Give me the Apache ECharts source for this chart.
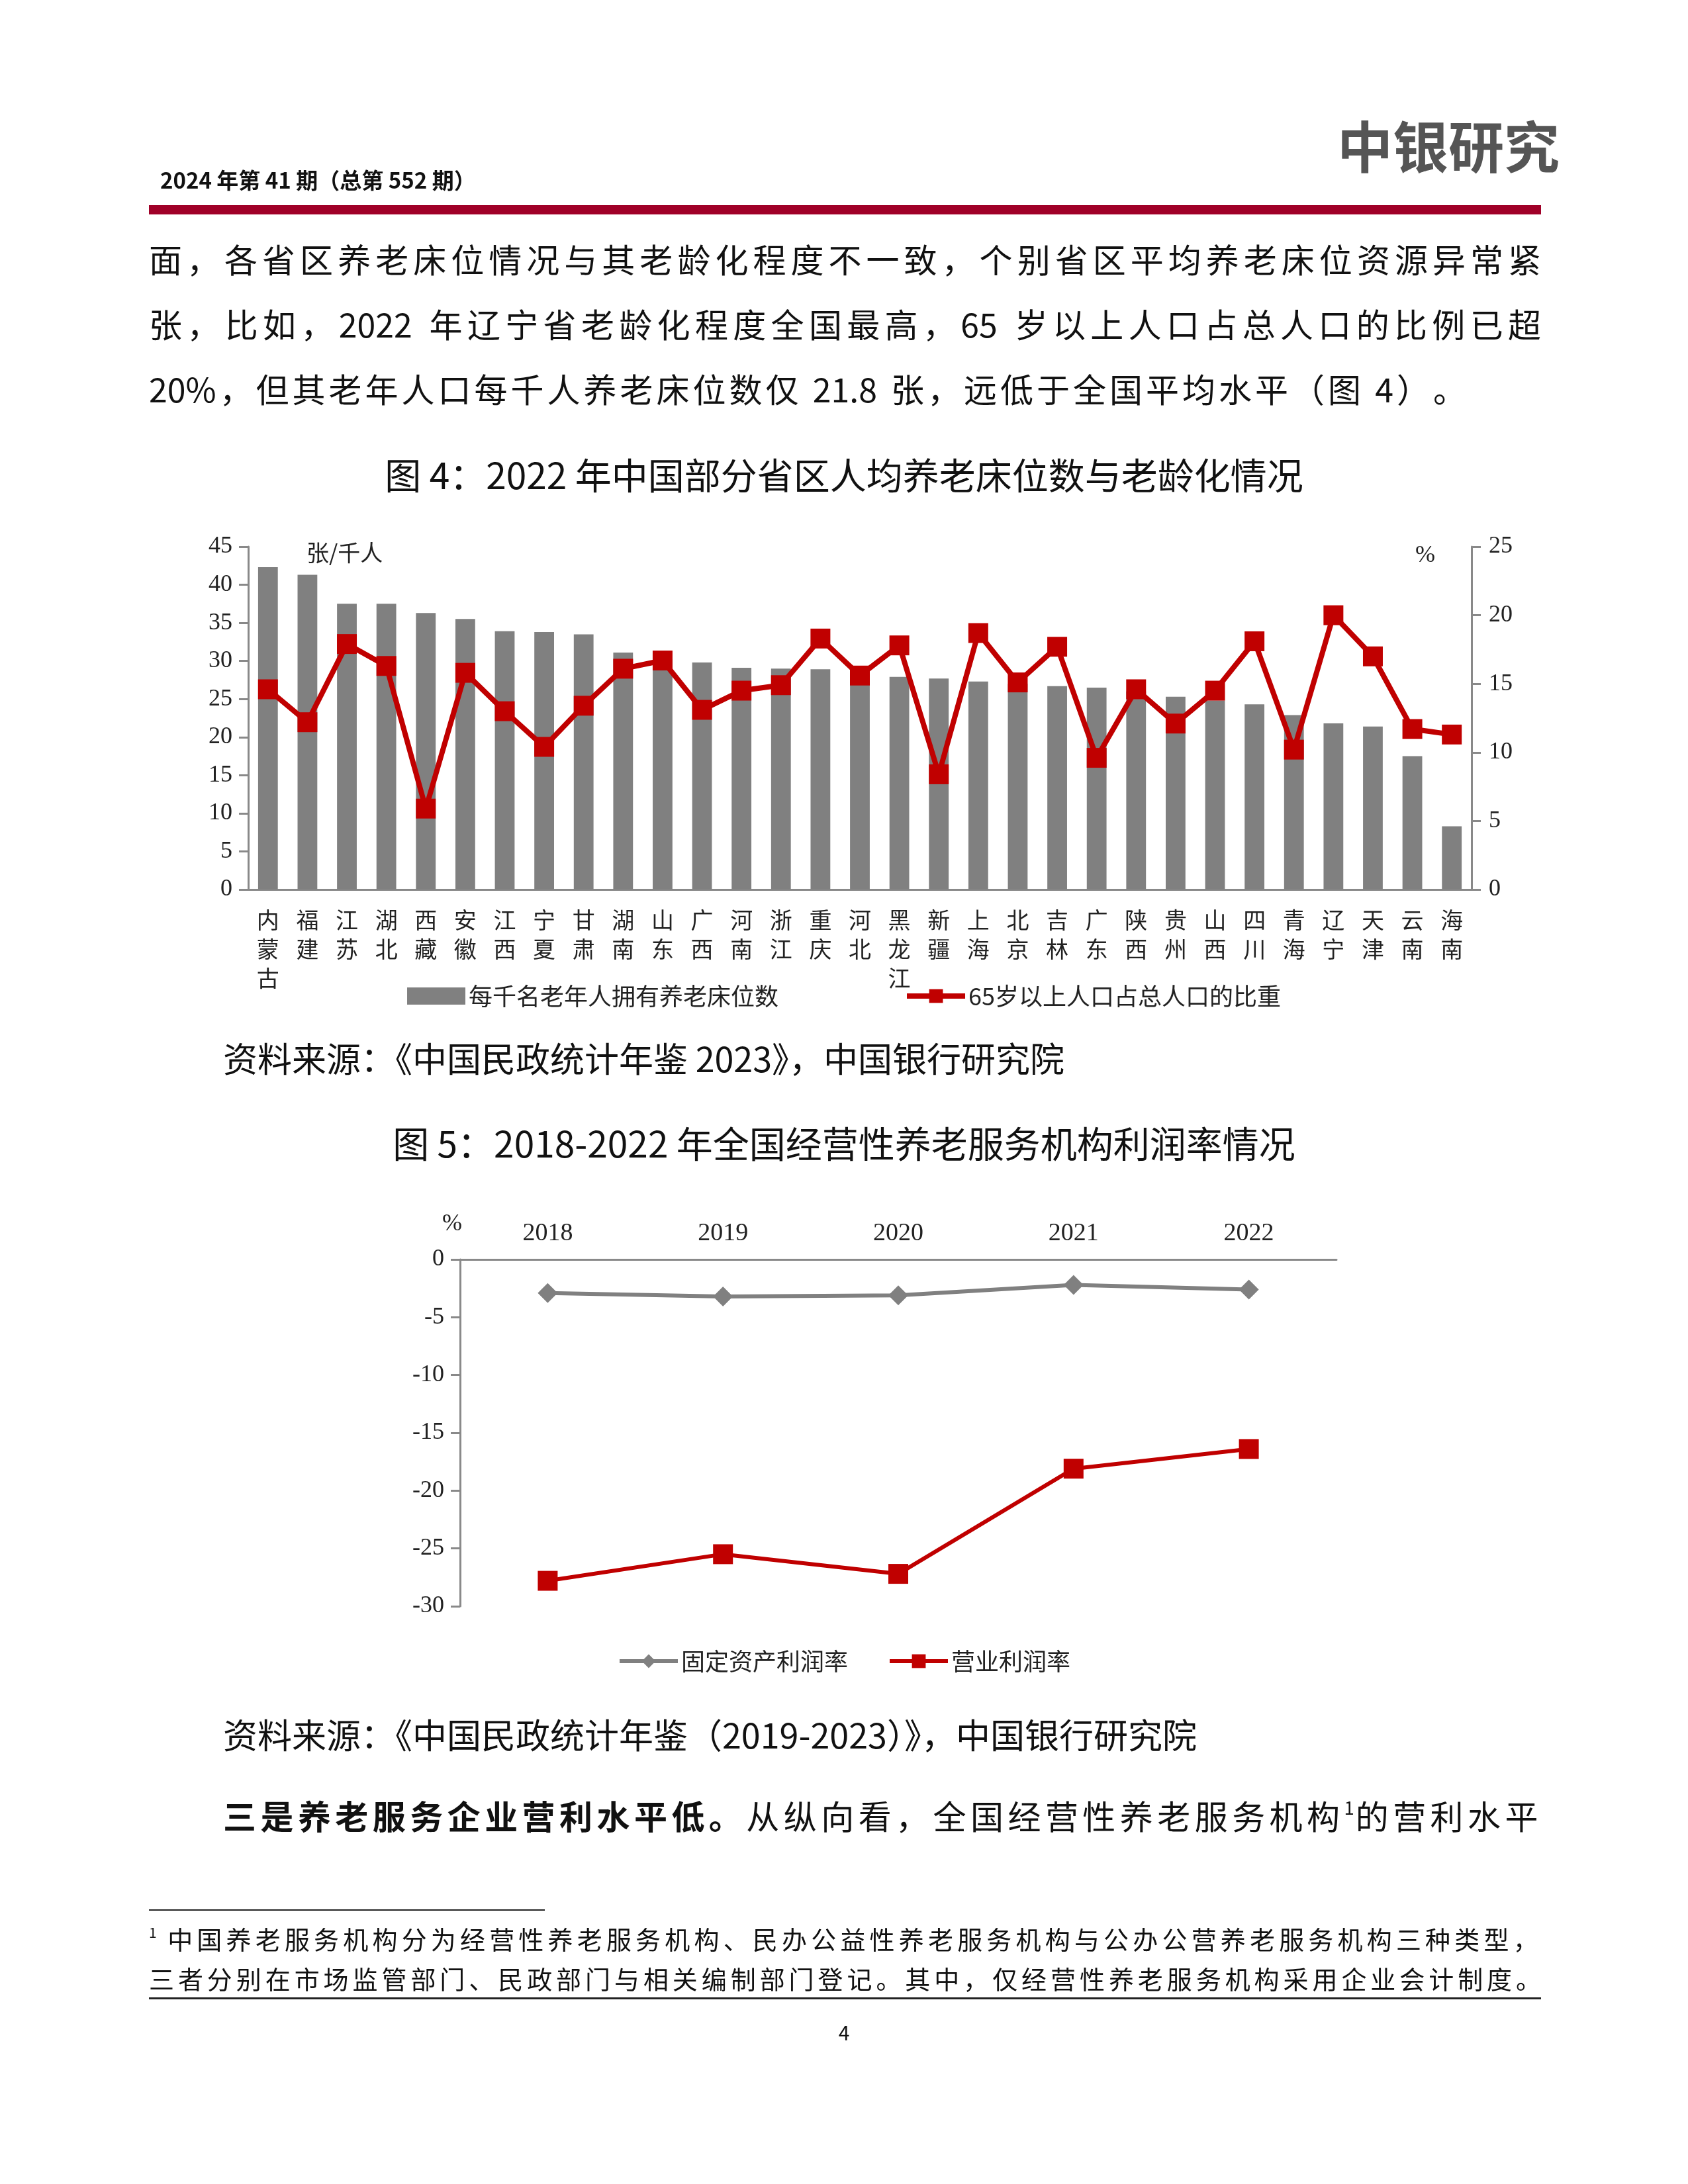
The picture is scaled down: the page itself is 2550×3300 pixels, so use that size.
<!DOCTYPE html>
<html><head><meta charset="utf-8">
<script src="https://cdn.jsdelivr.net/npm/echarts@6/dist/echarts.min.js"></script>
<style>html,body{margin:0;padding:0;background:#fff}#c{width:2550px;height:3300px}</style>
</head><body><div id="c"></div>
<script>
const provinces = ['内蒙古','福建','江苏','湖北','西藏','安徽','江西','宁夏','甘肃','湖南','山东','广西','河南','浙江','重庆','河北','黑龙江','新疆','上海','北京','吉林','广东','陕西','贵州','山西','四川','青海','辽宁','天津','云南','海南'];
const bedsPerThousand = [42.3,41.3,37.5,37.5,36.3,35.5,33.9,33.8,33.5,31.1,30.2,29.8,29.1,29.0,28.9,28.5,27.9,27.7,27.3,27.0,26.7,26.5,26.0,25.3,24.8,24.3,22.9,21.8,21.4,17.5,8.3];
const elderShare = [14.6,12.2,17.9,16.3,5.9,15.8,13.0,10.4,13.4,16.1,16.7,13.1,14.5,14.9,18.3,15.6,17.8,8.4,18.7,15.1,17.7,9.6,14.6,12.1,14.5,18.1,10.2,20.0,17.0,11.7,11.3];
const years = ['2018','2019','2020','2021','2022'];
const fixedAssetMargin = [-2.9,-3.2,-3.1,-2.2,-2.6];
const operatingMargin = [-27.8,-25.5,-27.2,-18.1,-16.4];
const leftTicks = [0,45,5];
const rightTicks = [0,25,5];
const margin2Ticks = [-30,0,5];

const CJK = '"Noto Sans CJK SC","Noto Sans",sans-serif';
const SERIF = '"Liberation Serif","DejaVu Serif",serif';
const mctx = document.createElement('canvas').getContext('2d');
function tokens(s){ return s.match(/[A-Za-z0-9.%\-]+|./g); }
function justLine(str, x0, x1, y, size, opts){
  opts = opts || {};
  const toks = tokens(str);
  const items = toks.map((t,i)=>{
    const bold = opts.boldUntil && i < opts.boldUntil;
    const sup = opts.sup === i;
    const fs = sup ? size*0.55 : size;
    const font = (bold?'bold ':'') + fs + 'px ' + CJK;
    mctx.font = font; const w = mctx.measureText(t).width;
    return {t, w, bold, sup, fs};
  });
  const sum = items.reduce((a,b)=>a+b.w,0);
  const gap = opts.nojust ? (opts.gap||0) : (x1-x0-sum)/(items.length-1);
  let x = x0; const out = [];
  items.forEach(it=>{
    out.push({type:'text', left:x, top:it.sup? y-size*0.05 : y, style:{text:it.t, font:(it.bold?'bold ':'')+it.fs+'px '+CJK, fill:'#111'}});
    x += it.w + (it.sup ? gap*0.3 : gap);
  });
  return out;
}

const g = [];
g.push({type:'text', left:242, top:256, style:{text:'2024 年第 41 期（总第 552 期）', font:'bold 33px '+CJK, fill:'#111'}});
g.push({type:'text', left:2020, top:180, style:{text:'中银研究', font:'bold 84px '+CJK, fill:'#555'}});
g.push({type:'rect', shape:{x:225,y:310,width:2103,height:14}, style:{fill:'#a00028'}});
g.push(...justLine('面，各省区养老床位情况与其老龄化程度不一致，个别省区平均养老床位资源异常紧',225,2328,368,50));
g.push(...justLine('张，比如，2022 年辽宁省老龄化程度全国最高，65 岁以上人口占总人口的比例已超',225,2328,466,50));
g.push(...justLine('20%，但其老年人口每千人养老床位数仅 21.8 张，远低于全国平均水平（图 4）。',225,2180,564,50,{nojust:true,gap:5}));
g.push({type:'text', x:1275, y:718, style:{text:'图 4：2022 年中国部分省区人均养老床位数与老龄化情况', font:'55px '+CJK, fill:'#111', align:'center', verticalAlign:'middle'}});
g.push({type:'text', left:463, top:818, style:{text:'张/千人', font:'34px '+CJK, fill:'#222'}});
g.push({type:'text', left:2138, top:822, style:{text:'%', font:'36px '+SERIF, fill:'#222'}});
g.push({type:'text', left:337, top:1574, style:{text:'资料来源：《中国民政统计年鉴 2023》，中国银行研究院', font:'52px '+CJK, fill:'#111'}});
g.push({type:'text', x:1275, y:1728, style:{text:'图 5：2018-2022 年全国经营性养老服务机构利润率情况', font:'55px '+CJK, fill:'#111', align:'center', verticalAlign:'middle'}});
g.push({type:'text', left:668, top:1832, style:{text:'%', font:'36px '+SERIF, fill:'#222'}});
g.push({type:'text', left:337, top:2596, style:{text:'资料来源：《中国民政统计年鉴（2019-2023）》，中国银行研究院', font:'52px '+CJK, fill:'#111'}});
g.push(...justLine('三是养老服务企业营利水平低。从纵向看，全国经营性养老服务机构1的营利水平',337,2328,2720,50,{boldUntil:14,sup:30}));
g.push({type:'rect', shape:{x:225,y:2885,width:598,height:2}, style:{fill:'#222'}});
g.push(...justLine('1 中国养老服务机构分为经营性养老服务机构、民办公益性养老服务机构与公办公营养老服务机构三种类型，',225,2328,2912,38,{sup:0}));
g.push(...justLine('三者分别在市场监管部门、民政部门与相关编制部门登记。其中，仅经营性养老服务机构采用企业会计制度。',225,2328,2972,38));
g.push({type:'rect', shape:{x:225,y:3018,width:2103,height:3}, style:{fill:'#222'}});
g.push({type:'text', x:1275, y:3072, style:{text:'4', font:'30px '+CJK, fill:'#111', align:'center', verticalAlign:'middle'}});

const axC = '#898989';
const chart = echarts.init(document.getElementById('c'));
chart.setOption({
  animation:false,
  graphic:g,
  legend:[
    {data:[{name:'每千名老年人拥有养老床位数',icon:'rect'},{name:'65岁以上人口占总人口的比重'}], left:'center', top:1482, itemWidth:88, itemHeight:26, itemGap:190,
     lineStyle:{width:8}, textStyle:{fontFamily:CJK,fontSize:36,color:'#222'}},
    {data:['固定资产利润率','营业利润率'], left:'center', top:2487, itemWidth:88, itemHeight:26, itemGap:60,
     lineStyle:{width:6}, textStyle:{fontFamily:CJK,fontSize:36,color:'#222'}}
  ],
  grid:[
    {left:375, top:826, width:1848, height:518},
    {left:695, top:1903, width:1324, height:524}
  ],
  xAxis:[
    {type:'category', gridIndex:0, data:provinces, boundaryGap:true,
     axisLine:{lineStyle:{color:axC,width:3}}, axisTick:{length:14, lineStyle:{color:axC,width:3}},
     axisLabel:{interval:0, margin:24, fontFamily:CJK, fontSize:34, color:'#222', lineHeight:44, formatter:v=>v.split('').join('\n'), verticalAlign:'top'}},
    {type:'category', gridIndex:1, data:years, position:'top', boundaryGap:true,
     axisLine:{lineStyle:{color:axC,width:3}}, axisTick:{length:14, lineStyle:{color:axC,width:3}},
     axisLabel:{margin:20, fontFamily:SERIF, fontSize:38, color:'#222'}}
  ],
  yAxis:[
    {type:'value', gridIndex:0, min:leftTicks[0], max:leftTicks[1], interval:leftTicks[2], splitLine:{show:false},
     axisLine:{show:true,lineStyle:{color:axC,width:3}}, axisTick:{show:true,length:14,lineStyle:{color:axC,width:3}},
     axisLabel:{margin:24, fontFamily:SERIF, fontSize:36, color:'#222'}},
    {type:'value', gridIndex:0, position:'right', min:rightTicks[0], max:rightTicks[1], interval:rightTicks[2], splitLine:{show:false},
     axisLine:{show:true,lineStyle:{color:axC,width:3}}, axisTick:{show:true,length:14,lineStyle:{color:axC,width:3}},
     axisLabel:{margin:26, fontFamily:SERIF, fontSize:36, color:'#222'}},
    {type:'value', gridIndex:1, min:margin2Ticks[0], max:margin2Ticks[1], interval:margin2Ticks[2], splitLine:{show:false},
     axisLine:{show:true,lineStyle:{color:axC,width:3}}, axisTick:{show:true,length:14,lineStyle:{color:axC,width:3}},
     axisLabel:{margin:24, fontFamily:SERIF, fontSize:36, color:'#222'}}
  ],
  series:[
    {name:'每千名老年人拥有养老床位数', type:'bar', xAxisIndex:0, yAxisIndex:0, data:bedsPerThousand, barWidth:'50%', itemStyle:{color:'#808080'}},
    {name:'65岁以上人口占总人口的比重', type:'line', xAxisIndex:0, yAxisIndex:1, data:elderShare, symbol:'rect', symbolSize:30,
     lineStyle:{color:'#c00000',width:8}, itemStyle:{color:'#c00000'}},
    {name:'固定资产利润率', type:'line', xAxisIndex:1, yAxisIndex:2, data:fixedAssetMargin, symbol:'diamond', symbolSize:30,
     lineStyle:{color:'#808080',width:6}, itemStyle:{color:'#808080'}},
    {name:'营业利润率', type:'line', xAxisIndex:1, yAxisIndex:2, data:operatingMargin, symbol:'rect', symbolSize:30,
     lineStyle:{color:'#c00000',width:6}, itemStyle:{color:'#c00000'}}
  ]
});
</script></body></html>
